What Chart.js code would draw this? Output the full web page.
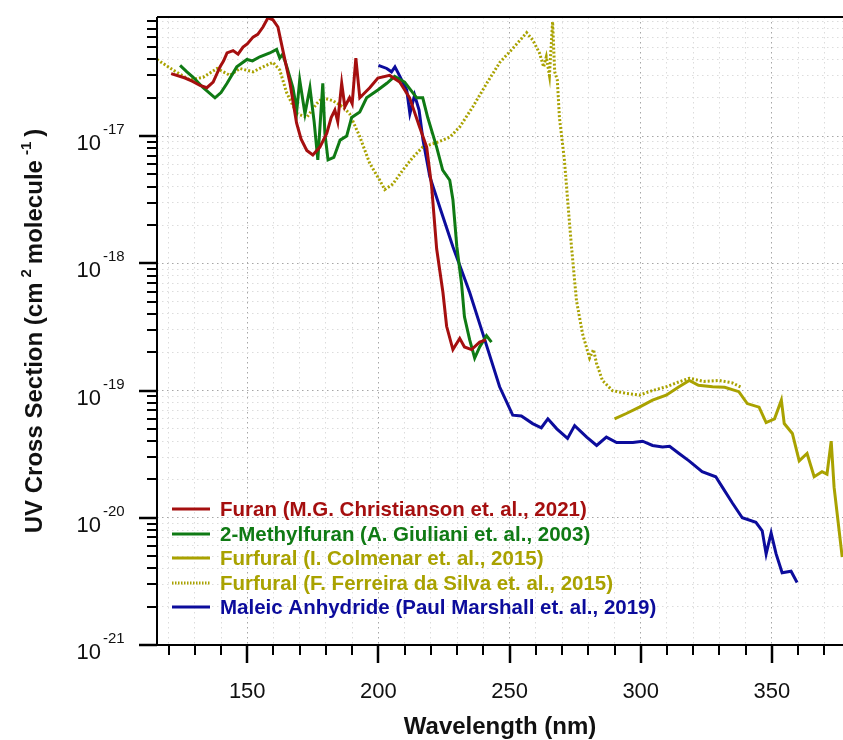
<!DOCTYPE html>
<html>
<head>
<meta charset="utf-8">
<script src="https://cdn.jsdelivr.net/npm/chart.js@4.4.1/dist/chart.umd.min.js"></script>
<style>
  html, body { margin: 0; padding: 0; background: #fff; }
</style>
</head>
<body>
<canvas id="uvChart" width="843" height="740"></canvas>
<script>
// [wavelength nm, cross section cm2/molecule]
const furan = [
  [121, 3.1e-17], [126.3, 2.86e-17], [129, 2.7e-17], [132, 2.5e-17], [134.6, 2.4e-17], [137, 2.66e-17],
  [139.6, 3.5e-17], [141, 3.9e-17], [142.3, 4.5e-17], [144.6, 4.7e-17], [146.5, 4.4e-17], [148.4, 5.0e-17],
  [150, 5.3e-17], [152.2, 6.0e-17], [154, 6.3e-17], [156, 7.2e-17], [157.9, 8.5e-17], [159.8, 8.2e-17],
  [161.7, 7.2e-17], [163.6, 4.7e-17], [166.3, 2.6e-17], [168.8, 1.27e-17], [170.5, 9.5e-18], [172.7, 7.7e-18],
  [175, 7.1e-18], [177.7, 8.2e-18], [180.3, 1.05e-17], [182, 1.4e-17], [183.4, 1.6e-17], [184.5, 1.3e-17],
  [186, 2.6e-17], [187.2, 1.7e-17], [189, 2.0e-17], [190, 1.8e-17], [191.4, 4.1e-17], [192.9, 2.0e-17],
  [196.7, 2.4e-17], [199.8, 2.86e-17], [204.3, 3.0e-17], [208.1, 2.66e-17], [211.9, 2.0e-17], [215.7, 1.18e-17],
  [218.4, 8.2e-18], [220.3, 4.0e-18], [222.2, 1.3e-18], [224.6, 5.9e-19], [226, 3.2e-19], [228.4, 2.1e-19],
  [231, 2.57e-19], [232.8, 2.2e-19], [235.5, 2.1e-19], [238.6, 2.4e-19], [241, 2.5e-19]
];
const methylfuran = [
  [124.4, 3.6e-17], [127, 3.2e-17], [129.4, 2.9e-17], [133.2, 2.4e-17], [137.7, 2.0e-17], [140, 2.2e-17],
  [142.3, 2.6e-17], [146, 3.5e-17], [149.9, 4.0e-17], [152, 3.9e-17], [154.8, 4.2e-17], [158.6, 4.5e-17],
  [161.2, 4.8e-17], [162.4, 4.1e-17], [163.5, 4.4e-17], [165.1, 3.5e-17], [167.4, 2.4e-17], [168.9, 1.6e-17],
  [170, 2.76e-17], [172, 1.5e-17], [173.9, 2.4e-17], [175.5, 1.3e-17], [176.9, 6.5e-18], [178.8, 2.6e-17],
  [179.6, 1.05e-17], [180.8, 6.5e-18], [183, 6.8e-18], [185.4, 9.3e-18], [187.9, 1.0e-17], [189.8, 1.4e-17],
  [192.9, 1.55e-17], [195.5, 2.0e-17], [199.8, 2.3e-17], [203.2, 2.6e-17], [206.2, 2.95e-17], [210, 2.66e-17],
  [214.6, 2.0e-17], [216.9, 2.0e-17], [218.8, 1.4e-17], [222.2, 8.2e-18], [224.5, 5.4e-18], [227.2, 4.5e-18],
  [228.4, 3.16e-18], [229.9, 1.35e-18], [231.7, 6.9e-19], [232.8, 3.8e-19], [234.8, 2.5e-19], [236.7, 1.8e-19],
  [238.6, 2.2e-19], [241.2, 2.7e-19], [243.1, 2.4e-19]
];
const furfuralColmenar = [
  [290, 6.0e-20], [294.5, 6.6e-20], [299.5, 7.4e-20], [304.5, 8.4e-20], [309.7, 9.2e-20], [314.6, 1.07e-19],
  [318.5, 1.2e-19], [322, 1.1e-19], [327.4, 1.07e-19], [332, 1.06e-19], [337.4, 9.8e-20], [340.6, 7.9e-20],
  [345.1, 7.4e-20], [347.8, 5.6e-20], [351, 6.0e-20], [353.6, 8.4e-20], [354.7, 5.5e-20], [357.8, 4.6e-20],
  [360.4, 2.8e-20], [363.4, 3.2e-20], [366.1, 2.1e-20], [369.1, 2.3e-20], [371, 2.2e-20], [372.6, 4.0e-20],
  [373.7, 1.74e-20], [376.8, 4.9e-21]
];
const furfuralFerreira = [
  [115.6, 4.0e-17], [121.8, 3.3e-17], [128.2, 2.76e-17], [133.2, 2.9e-17], [138.5, 3.4e-17], [143.4, 3.0e-17],
  [147.2, 3.4e-17], [152.2, 3.2e-17], [156, 3.5e-17], [159.8, 3.8e-17], [162.4, 3.3e-17], [165, 2.2e-17],
  [168.9, 1.5e-17], [172.7, 1.4e-17], [176.5, 1.8e-17], [178.8, 2.0e-17], [182.6, 1.9e-17], [186.4, 1.7e-17],
  [189, 1.5e-17], [192.9, 9.9e-18], [196.7, 6.1e-18], [200.5, 4.5e-18], [202.4, 3.8e-18], [205.5, 4.2e-18],
  [209.3, 5.4e-18], [213.1, 6.8e-18], [216.9, 8.2e-18], [222.2, 8.9e-18], [227.2, 9.8e-18], [231, 1.18e-17],
  [236, 1.7e-17], [241.3, 2.6e-17], [246.3, 3.8e-17], [251.3, 4.9e-17], [256.5, 6.5e-17], [258.8, 5.7e-17],
  [261.4, 4.5e-17], [263, 3.5e-17], [264, 4.2e-17], [265.2, 3.0e-17], [266.4, 7.9e-17], [267.2, 3.2e-17],
  [268.2, 2.76e-17], [269, 1.4e-17], [270.9, 6.5e-18], [272.1, 3.2e-18], [273.6, 1.35e-18], [275.5, 5.1e-19],
  [277.8, 2.8e-19], [280.5, 1.8e-19], [282, 2.1e-19], [283.1, 1.65e-19], [285.4, 1.2e-19], [289.2, 1.0e-19],
  [294.5, 9.5e-20], [299.5, 9.2e-20], [304.5, 1.0e-19], [309.7, 1.07e-19], [314.6, 1.17e-19], [318.5, 1.25e-19],
  [324, 1.18e-19], [329.9, 1.2e-19], [334.9, 1.15e-19], [338.7, 1.05e-19]
];
const maleicAnhydride = [
  [200, 3.6e-17], [203.2, 3.4e-17], [205, 3.2e-17], [206.3, 3.5e-17], [208, 3.0e-17], [210.8, 2.3e-17],
  [212, 1.5e-17], [213.8, 2.1e-17], [215.5, 1.6e-17], [217, 9.3e-18], [219.6, 4.8e-18], [223.4, 2.76e-18],
  [228.4, 1.35e-18], [234.8, 5.9e-19], [239.8, 2.8e-19], [246.2, 1.07e-19], [251.2, 6.4e-20], [254.5, 6.3e-20],
  [258.8, 5.5e-20], [262.1, 5.1e-20], [264.6, 6.0e-20], [268, 5.0e-20], [272.1, 4.2e-20], [274.8, 5.3e-20],
  [279.4, 4.3e-20], [283.2, 3.7e-20], [286.9, 4.3e-20], [290.8, 3.9e-20], [297, 3.9e-20], [300.7, 4.0e-20],
  [304.5, 3.7e-20], [308.3, 3.6e-20], [311, 3.65e-20], [314.6, 3.2e-20], [318.4, 2.8e-20], [323.4, 2.3e-20],
  [328.6, 2.1e-20], [331.1, 1.74e-20], [335, 1.3e-20], [338.7, 1.0e-20], [343.9, 9.2e-21], [346.3, 7.9e-21],
  [347.8, 5.2e-21], [349.7, 7.6e-21], [351.6, 5.2e-21], [353.9, 3.7e-21], [357.3, 3.8e-21], [359.6, 3.1e-21]
];

const seriesLabels = [
  'Furan (M.G. Christianson et. al., 2021)',
  '2-Methylfuran (A. Giuliani et. al., 2003)',
  'Furfural (I. Colmenar et. al., 2015)',
  'Furfural (F. Ferreira da Silva et. al., 2015)',
  'Maleic Anhydride (Paul Marshall et. al., 2019)'
];
const xTickLabels = [150, 200, 250, 300, 350];
const yTickExponents = [-21, -20, -19, -18, -17];

const FONT = '"Liberation Sans", Arial, sans-serif';
const colors = ['#a50f0f', '#0f7a14', '#a9a200', '#a9a200', '#0c0c9c'];
const dashes = [[], [], [], [2, 2], []];
const seriesData = [furan, methylfuran, furfuralColmenar, furfuralFerreira, maleicAnhydride];

const datasets = seriesData.map((s, i) => ({
  label: seriesLabels[i],
  data: s.map(p => ({ x: p[0], y: p[1] })),
  borderColor: colors[i],
  borderWidth: 3,
  borderDash: dashes[i],
  pointRadius: 0,
  fill: false,
  tension: 0
}));

const decor = {
  id: 'decor',
  afterDraw(chart) {
    const ctx = chart.ctx;
    const area = chart.chartArea;
    const xs = chart.scales.x, ys = chart.scales.y;
    ctx.save();

    // axis lines
    ctx.strokeStyle = '#000';
    ctx.lineWidth = 2;
    ctx.beginPath();
    ctx.moveTo(area.left, area.top); ctx.lineTo(area.right, area.top);
    ctx.moveTo(area.left, area.top); ctx.lineTo(area.left, area.bottom);
    ctx.moveTo(area.left, area.bottom); ctx.lineTo(area.right, area.bottom);
    ctx.stroke();

    // tick marks outside the axes
    ys.ticks.forEach(t => {
      const py = Math.round(ys.getPixelForValue(t.value));
      const len = t.major ? 18 : 10;
      ctx.lineWidth = t.major ? 2.5 : 2;
      ctx.beginPath(); ctx.moveTo(area.left - len, py); ctx.lineTo(area.left, py); ctx.stroke();
    });
    xs.ticks.forEach(t => {
      const px = Math.round(xs.getPixelForValue(t.value));
      const len = t.major ? 18 : 10;
      ctx.lineWidth = t.major ? 2.5 : 2;
      ctx.beginPath(); ctx.moveTo(px, area.bottom); ctx.lineTo(px, area.bottom + len); ctx.stroke();
    });

    // y tick labels 10^n
    ctx.fillStyle = '#111';
    yTickExponents.forEach(e => {
      const py = ys.getPixelForValue(Math.pow(10, e));
      ctx.font = '22px ' + FONT;
      ctx.textAlign = 'right';
      ctx.textBaseline = 'alphabetic';
      ctx.fillText('10', 101, py + 14);
      ctx.font = '15px ' + FONT;
      ctx.textAlign = 'left';
      ctx.fillText(String(e), 103, py - 2);
    });

    // x tick labels
    ctx.font = '22px ' + FONT;
    ctx.textAlign = 'center';
    xTickLabels.forEach(v => {
      ctx.fillText(String(v), xs.getPixelForValue(v), 698);
    });

    // x title
    ctx.font = 'bold 24px ' + FONT;
    ctx.fillText('Wavelength (nm)', (area.left + area.right) / 2, 734);

    // y title with superscripts
    const parts = [
      { t: 'UV Cross Section (cm', sup: false },
      { t: '2', sup: true },
      { t: 'molecule', sup: false },
      { t: '-1', sup: true },
      { t: ')', sup: false }
    ];
    const mainFont = 'bold 24px ' + FONT, supFont = 'bold 15px ' + FONT;
    const gap = 5;
    let total = 0;
    parts.forEach((p, i) => {
      ctx.font = p.sup ? supFont : mainFont;
      p.w = ctx.measureText(p.t).width;
      total += p.w + (i > 0 ? gap : 0);
    });
    ctx.translate(42, (area.top + area.bottom) / 2);
    ctx.rotate(-Math.PI / 2);
    ctx.textAlign = 'left';
    let cx = -total / 2;
    parts.forEach((p, i) => {
      if (i > 0) cx += gap;
      ctx.font = p.sup ? supFont : mainFont;
      ctx.fillText(p.t, cx, p.sup ? -11 : 0);
      cx += p.w;
    });
    ctx.setTransform(1, 0, 0, 1, 0, 0);

    // legend
    const rowY = [509, 534, 558, 583, 607];
    ctx.font = 'bold 20.5px ' + FONT;
    ctx.textBaseline = 'middle';
    ctx.textAlign = 'left';
    seriesLabels.forEach((lab, i) => {
      ctx.strokeStyle = colors[i];
      ctx.lineWidth = 3;
      ctx.setLineDash(i === 3 ? [1.5, 1.5] : []);
      ctx.beginPath(); ctx.moveTo(172, rowY[i]); ctx.lineTo(210, rowY[i]); ctx.stroke();
      ctx.setLineDash([]);
      ctx.fillStyle = colors[i];
      ctx.fillText(lab, 220, rowY[i] + 1);
    });
    ctx.restore();
  }
};

new Chart(document.getElementById('uvChart'), {
  type: 'line',
  data: { datasets },
  options: {
    responsive: false,
    animation: false,
    events: [],
    layout: { padding: { left: 0, top: 17, right: 0, bottom: 0 } },
    plugins: { legend: { display: false }, tooltip: { enabled: false } },
    scales: {
      x: {
        type: 'linear',
        min: 115.6,
        max: 377.1,
        afterBuildTicks: s => {
          const t = [];
          for (let v = 120; v <= 370; v += 10) t.push({ value: v, major: v % 50 === 0 });
          s.ticks = t;
        },
        afterFit: s => { s.height = 95; },
        ticks: { display: false },
        grid: {
          drawTicks: false,
          lineWidth: 1,
          color: c => (c.tick && c.tick.major) ? '#a6a6a6' : '#dcdcdc'
        },
        border: { display: false, dash: [1.5, 3.5] }
      },
      y: {
        type: 'logarithmic',
        min: 1e-21,
        max: 8.63e-17,
        afterBuildTicks: s => {
          const t = [];
          yTickExponents.forEach(e => {
            for (let m = 1; m <= 9; m++) {
              const v = parseFloat(m + 'e' + e);
              if (v >= s.min && v <= s.max) t.push({ value: v, major: m === 1 });
            }
          });
          s.ticks = t;
        },
        afterFit: s => { s.width = 157; },
        ticks: { display: false },
        grid: {
          drawTicks: false,
          lineWidth: 1,
          color: c => (c.tick && c.tick.major) ? '#a6a6a6' : '#dcdcdc'
        },
        border: { display: false, dash: [1.5, 3.5] }
      }
    }
  },
  plugins: [decor]
});
</script>
</body>
</html>
